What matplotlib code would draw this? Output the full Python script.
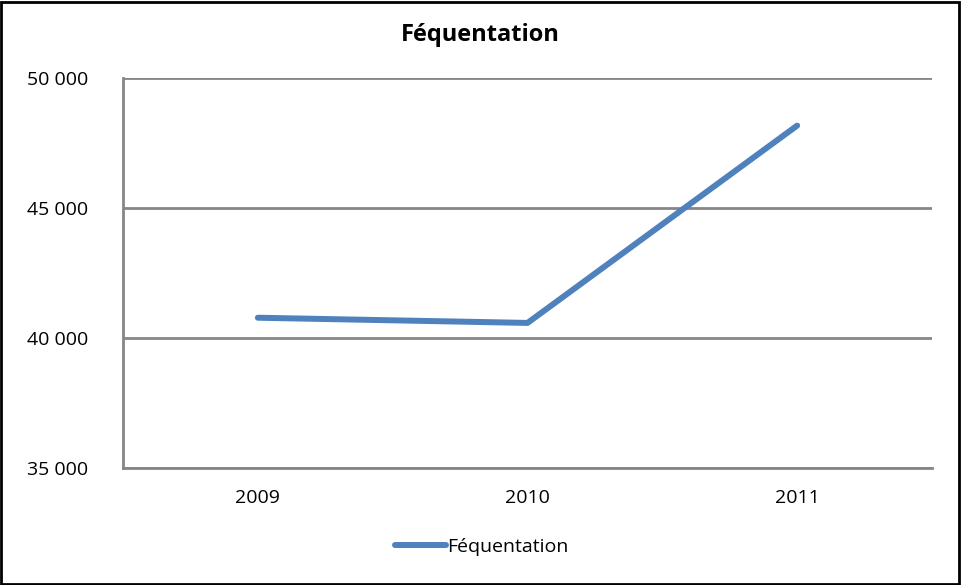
import matplotlib
matplotlib.use("Agg")
import matplotlib.pyplot as plt
from matplotlib.ticker import FuncFormatter
from matplotlib.patches import Rectangle

years = ["2009", "2010", "2011"]
frequentation = [40780, 40580, 48170]
yticks = [35000, 40000, 45000, 50000]

plt.rcParams['font.family'] = ['Open Sans', 'Liberation Sans', 'DejaVu Sans']

fig = plt.figure(figsize=(9.62, 5.85), dpi=100)
ax = fig.add_axes([123/962, 1-468/585, (932-123)/962, (468-78)/585])

x = list(range(len(years)))
ax.plot(x, frequentation, color="#4F81BD", linewidth=4.3, solid_capstyle="round",
        label="Féquentation", zorder=3)

ax.set_xlim(-0.5, len(years)-0.5)
ax.set_ylim(35000, 50000)
ax.set_yticks(yticks)
ax.yaxis.set_major_formatter(FuncFormatter(lambda v, p: f"{int(v):,}".replace(",", " ")))
ax.set_xticks(x)
ax.set_xticklabels(years)
ax.tick_params(axis="both", length=0, labelsize=14, colors="black")
ax.tick_params(axis="y", pad=25)
ax.tick_params(axis="x", pad=15)

ax.grid(axis="y", color="#868686", linewidth=2)
ax.set_axisbelow(True)
for s in ["top", "right"]:
    ax.spines[s].set_visible(False)
ax.spines["left"].set_color("#868686")
ax.spines["left"].set_linewidth(2)
ax.spines["bottom"].set_color("#868686")
ax.spines["bottom"].set_linewidth(2)

fig.text(480/962, 1-35/585, "Féquentation", ha="center", va="center",
         fontsize=17, fontweight="bold")

leg = fig.legend(loc="center", bbox_to_anchor=(482/962, 1-547/585), frameon=False,
                 fontsize=14, handlelength=2.6, handletextpad=0.1)

fig.patches.append(Rectangle((1/962, 1/585), 958/962, 582/585, transform=fig.transFigure,
                             fill=False, edgecolor="black", linewidth=2))

fig.savefig("out.png", dpi=100)
